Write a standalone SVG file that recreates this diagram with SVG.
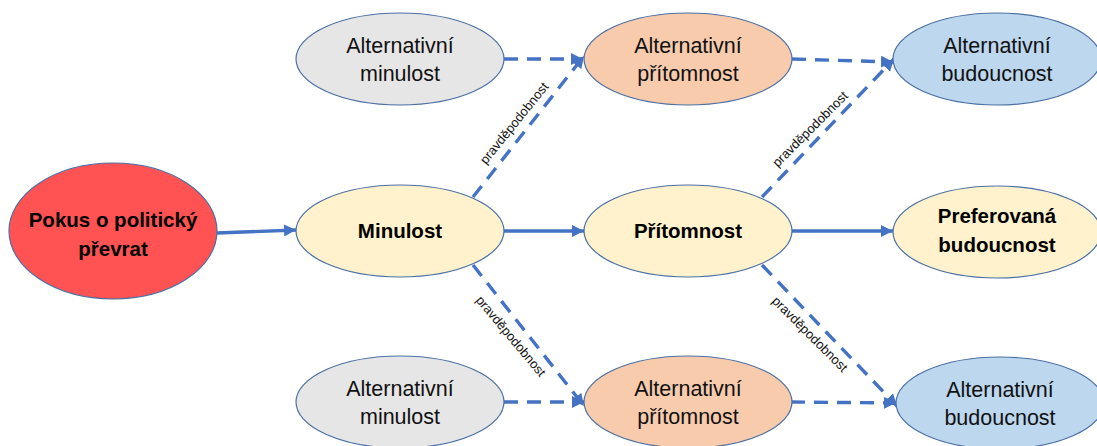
<svg xmlns="http://www.w3.org/2000/svg" width="1097" height="446" viewBox="0 0 1097 446">
<defs>
<style>
.node{stroke:#4a6fa5;stroke-width:1.2}
.red{fill:#ff5252}
.cream{fill:#fff2cc}
.gray{fill:#e7e6e6}
.orange{fill:#f8cbad}
.blue{fill:#bdd7ee}
.t{font-family:"Liberation Sans",Arial,sans-serif;font-size:21.5px;fill:#111;text-anchor:middle}
.b{font-family:"Liberation Sans",Arial,sans-serif;font-size:20.5px;font-weight:bold;fill:#000;text-anchor:middle}
.lbl{font-family:"Liberation Sans",Arial,sans-serif;font-size:13px;fill:#111;text-anchor:middle}
.c{fill:none;stroke:#4472c4;stroke-width:3.4;marker-end:url(#ah)}
.d{stroke-dasharray:14 9}
</style>
<marker id="ah" viewBox="0 0 12 12" refX="12" refY="6" markerWidth="12" markerHeight="12" markerUnits="userSpaceOnUse" orient="auto">
<path d="M0,0 L12,6 L0,12 z" fill="#4472c4"/>
</marker>
</defs>
<rect width="1097" height="446" fill="#ffffff"/>
<g id="connectors">
<line class="c" x1="217" y1="233" x2="296" y2="230"/>
<line class="c" x1="504" y1="231" x2="584" y2="231"/>
<line class="c" x1="792" y1="231" x2="893" y2="231"/>
<line class="c d" x1="504" y1="59" x2="583" y2="59"/>
<line class="c d" x1="792" y1="59" x2="893" y2="62"/>
<line class="c d" x1="504" y1="402" x2="584" y2="402"/>
<line class="c d" x1="791" y1="402" x2="896" y2="403"/>
<line class="c d" x1="473" y1="197" x2="584" y2="56"/>
<line class="c d" x1="473" y1="265" x2="584" y2="406"/>
<line class="c d" x1="762" y1="197" x2="894" y2="59"/>
<line class="c d" x1="762" y1="265" x2="897" y2="406"/>
<text class="lbl" transform="translate(514,123) rotate(-51)" dy="0.35em">pravděpodobnost</text>
<text class="lbl" transform="translate(810,129) rotate(-45)" dy="0.35em">pravděpodobnost</text>
<text class="lbl" transform="translate(511,336) rotate(50)" dy="0.35em">pravděpodobnost</text>
<text class="lbl" transform="translate(810,334) rotate(45)" dy="0.35em">pravděpodobnost</text>
</g>
<g id="pokus">
<ellipse class="node red" cx="113" cy="231" rx="104" ry="68"/>
<text class="b" x="113" y="227">Pokus o politický</text>
<text class="b" x="113" y="256">převrat</text>
</g>
<g id="minulost">
<ellipse class="node cream" cx="400" cy="231" rx="104" ry="46"/>
<text class="b" x="400" y="238">Minulost</text>
</g>
<g id="pritomnost">
<ellipse class="node cream" cx="688" cy="231" rx="104" ry="46"/>
<text class="b" x="688" y="238">Přítomnost</text>
</g>
<g id="preferovana">
<ellipse class="node cream" cx="997" cy="232" rx="104" ry="46"/>
<text class="b" x="997" y="223">Preferovaná</text>
<text class="b" x="997" y="252">budoucnost</text>
</g>
<g id="alt-minulost-top">
<ellipse class="node gray" cx="400" cy="59" rx="104" ry="46"/>
<text class="t" x="400" y="53">Alternativní</text>
<text class="t" x="400" y="81">minulost</text>
</g>
<g id="alt-pritomnost-top">
<ellipse class="node orange" cx="688" cy="59" rx="104" ry="46"/>
<text class="t" x="688" y="53">Alternativní</text>
<text class="t" x="688" y="81">přítomnost</text>
</g>
<g id="alt-budoucnost-top">
<ellipse class="node blue" cx="997" cy="59" rx="104" ry="46"/>
<text class="t" x="997" y="53">Alternativní</text>
<text class="t" x="997" y="81">budoucnost</text>
</g>
<g id="alt-minulost-bottom">
<ellipse class="node gray" cx="400" cy="402" rx="104" ry="46"/>
<text class="t" x="400" y="396">Alternativní</text>
<text class="t" x="400" y="424">minulost</text>
</g>
<g id="alt-pritomnost-bottom">
<ellipse class="node orange" cx="688" cy="402" rx="104" ry="46"/>
<text class="t" x="688" y="396">Alternativní</text>
<text class="t" x="688" y="424">přítomnost</text>
</g>
<g id="alt-budoucnost-bottom">
<ellipse class="node blue" cx="1000" cy="403" rx="104" ry="46"/>
<text class="t" x="1000" y="397">Alternativní</text>
<text class="t" x="1000" y="425">budoucnost</text>
</g>
</svg>
